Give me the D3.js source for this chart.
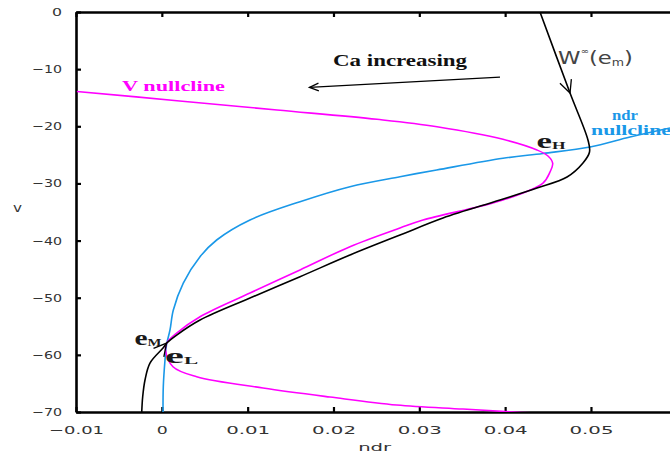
<!DOCTYPE html>
<html><head><meta charset="utf-8">
<script src="https://cdn.jsdelivr.net/npm/d3@7"></script>
<style>body{margin:0;background:#fff}svg{display:block}</style>
</head><body><svg id="c" width="670" height="454"></svg>
<script>
// ---- data ----
const xTicks = [-0.01, 0, 0.01, 0.02, 0.03, 0.04, 0.05];
const yTicks = [0, -10, -20, -30, -40, -50, -60, -70];

// V nullcline (magenta)
const vNullNdr = [-0.0099, 0.00177, 0.01342, 0.02507, 0.03206, 0.03975, 0.04371, 0.04499, 0.04554, 0.04523, 0.04441, 0.03975, 0.03043, 0.02775, 0.02192, 0.0161, 0.01027, 0.00445, 0.00173, 0.00057, 0.00043, 0.0013, 0.00406, 0.01179, 0.01959, 0.02736, 0.03509, 0.04091, 0.0458];
const vNullV   = [-13.9, -15.52, -17.15, -18.78, -20.07, -22.28, -24.15, -25.2, -26.48, -27.99, -29.93, -32.9, -36.4, -37.8, -41.07, -45.15, -49.18, -53.32, -56.18, -57.93, -59.15, -62.08, -63.83, -65.8, -67.38, -68.78, -69.48, -70, -70.3];

// ndr nullcline (blue)
const ndrNullNdr = [0.00014, 0.00017, 0.00037, 0.00054, 0.00095, 0.00134, 0.0025, 0.00445, 0.00639, 0.01027, 0.0161, 0.02192, 0.02775, 0.03202, 0.03975, 0.04441, 0.04989, 0.05455, 0.05921];
const ndrNullV   = [-70.3, -65.57, -60.9, -58.28, -55.65, -52.15, -47.43, -42.82, -39.9, -36.4, -33.2, -30.57, -28.82, -27.65, -25.6, -24.75, -23.63, -21.88, -20.3];

// W-infinity(e_m) curve (black)
const wNdr = [0.04406, 0.04756, 0.04965, 0.04983, 0.04907, 0.04721, 0.04371, 0.0394, 0.03276, 0.02775, 0.02192, 0.0161, 0.01027, 0.00445, 0.00173, 0.00057, 0.00014, -0.00138, -0.00196, -0.00223, -0.00235];
const wV   = [0, -14.18, -22.4, -24.5, -26.43, -28.88, -30.8, -32.9, -36.05, -39.03, -42.53, -46.32, -50.05, -53.9, -56.53, -57.93, -58.8, -61.43, -64.4, -67.33, -70.3];

// annotation anchors (data coords)
const eH = [0.0440, -24.4];
const eM = [0.00055, -57.95];
const eL = [0.0005, -60.2];
const caArrow = [[0.0394, -11.4], [0.0172, -13.2]];
const wArrowIdx = 1;

// ---- chart ----
const svg = d3.select("#c");
const x = d3.scaleLinear().domain([-0.01, 0.06]).range([76, 676.8]);
const y = d3.scaleLinear().domain([0, -70]).range([12, 412]);

svg.append("defs").append("clipPath").attr("id", "clip")
  .append("rect").attr("x", x(-0.01)).attr("y", y(0)).attr("width", x(0.06) - x(-0.01)).attr("height", y(-70) - y(0));

const fmtX = v => v === 0 ? "0" : (v < 0 ? "\u2212" : "") + Math.abs(v).toFixed(2);
const fmtY = v => v === 0 ? "0" : (v < 0 ? "\u2212" : "") + Math.abs(v);

function styleAxis(g) {
  g.select(".domain").attr("stroke", "#000").attr("stroke-width", 2.6);
  g.selectAll(".tick line").attr("stroke", "#000").attr("stroke-width", 2.2);
  g.selectAll("text").attr("fill", "#333").style("font-family", "DejaVu Sans")
    .style("font-size", "11px");
}

const gx = svg.append("g").attr("transform", `translate(0,${y(-70)})`)
  .call(d3.axisBottom(x).tickValues(xTicks).tickFormat(fmtX).tickSizeInner(-5).tickSizeOuter(0).tickPadding(14));
styleAxis(gx);
gx.selectAll("text").attr("textLength", d => fmtX(d).length * 11).attr("lengthAdjust", "spacingAndGlyphs");

const gxt = svg.append("g").attr("transform", `translate(0,${y(0)})`)
  .call(d3.axisTop(x).tickValues(xTicks).tickFormat("").tickSizeInner(-5).tickSizeOuter(0));
styleAxis(gxt);

const gy = svg.append("g").attr("transform", `translate(${x(-0.01)},0)`)
  .call(d3.axisLeft(y).tickValues(yTicks).tickFormat(fmtY).tickSizeInner(-5).tickSizeOuter(0).tickPadding(14));
styleAxis(gy);
gy.selectAll("text").attr("textLength", d => fmtY(d).length * 10).attr("lengthAdjust", "spacingAndGlyphs");

const gyr = svg.append("g").attr("transform", `translate(${x(0.06)},0)`)
  .call(d3.axisRight(y).tickValues(yTicks).tickFormat("").tickSizeInner(-5).tickSizeOuter(0));
styleAxis(gyr);

// axis titles
svg.append("text").attr("x", 17.5).attr("y", 212).attr("text-anchor", "middle")
  .style("font-family", "DejaVu Sans").style("font-size", "12px").attr("fill", "#333")
  .attr("textLength", 9).attr("lengthAdjust", "spacingAndGlyphs").text("v");
svg.append("text").attr("x", x(0.0248)).attr("y", 451).attr("text-anchor", "middle")
  .style("font-family", "DejaVu Sans").style("font-size", "11px").attr("fill", "#333")
  .attr("textLength", 33).attr("lengthAdjust", "spacingAndGlyphs").text("ndr");

// curves
const line = d3.line().x(d => x(d[0])).y(d => y(d[1])).curve(d3.curveCatmullRom.alpha(0.5));
const plot = svg.append("g").attr("clip-path", "url(#clip)");
plot.append("path").datum(d3.zip(ndrNullNdr, ndrNullV)).attr("d", line)
  .attr("fill", "none").attr("stroke", "#1a98e8").attr("stroke-width", 1.6);
plot.append("path").datum(d3.zip(vNullNdr, vNullV)).attr("d", line)
  .attr("fill", "none").attr("stroke", "#ff00ff").attr("stroke-width", 1.6);
plot.append("path").datum(d3.zip(wNdr, wV)).attr("d", line)
  .attr("fill", "none").attr("stroke", "#000").attr("stroke-width", 1.6);

// arrowheads
function arrowHead(tip, from, len, ang) {
  const tx = x(tip[0]), ty = y(tip[1]);
  const fx = x(from[0]), fy = y(from[1]);
  const a = Math.atan2(fy - ty, fx - tx);
  const p1 = [tx + len * Math.cos(a + ang), ty + len * Math.sin(a + ang)];
  const p2 = [tx + len * Math.cos(a - ang), ty + len * Math.sin(a - ang)];
  svg.append("path").attr("d", `M${p1}L${tx},${ty}L${p2}`)
    .attr("fill", "none").attr("stroke", "#000").attr("stroke-width", 1.3);
}
// Ca increasing arrow
svg.append("line").attr("x1", x(caArrow[0][0])).attr("y1", y(caArrow[0][1]))
  .attr("x2", x(caArrow[1][0])).attr("y2", y(caArrow[1][1])).attr("stroke", "#000").attr("stroke-width", 1.2);
arrowHead(caArrow[1], caArrow[0], 10, 0.4);
// arrow on W curve
arrowHead([wNdr[wArrowIdx], wV[wArrowIdx]], [wNdr[0], wV[0]], 14, 0.45);
// arrow at e_M
arrowHead(eM, [-0.00138, -61.43], 14, 0.5);

// labels
function serifLabel(px, py, txt, color, size, len) {
  svg.append("text").attr("x", px).attr("y", py)
    .style("font-family", "Liberation Serif").style("font-weight", "bold").style("font-size", size + "px")
    .attr("fill", color).attr("textLength", len).attr("lengthAdjust", "spacingAndGlyphs").text(txt);
}
serifLabel(122, 91, "V nullcline", "#ff00ff", 15, 103);
serifLabel(333, 66, "Ca increasing", "#111", 16, 134);
serifLabel(612, 120, "ndr", "#1a98e8", 14, 26);
serifLabel(591, 135, "nullcline", "#1a98e8", 14, 80);

function eLabel(px, py, sub, len) {
  const t = svg.append("text").attr("x", px).attr("y", py)
    .style("font-family", "Liberation Serif").style("font-weight", "bold")
    .attr("fill", "#1a1a1a").attr("textLength", len).attr("lengthAdjust", "spacingAndGlyphs");
  t.append("tspan").style("font-size", "20px").text("e");
  t.append("tspan").style("font-size", "10px").attr("dy", 1).text(sub);
}
eLabel(x(eH[0]) - 3, y(eH[1]) - 3, "H", 29);
eLabel(x(eM[0]) - 32, y(eM[1]) + 2, "M", 27);
eLabel(x(eL[0]) - 1, y(eL[1]) + 7, "L", 33);

// W^inf(e_m) label
const wl = svg.append("text").attr("x", 558).attr("y", 64)
  .style("font-family", "DejaVu Sans").style("font-size", "18px").attr("fill", "#444")
  .attr("textLength", 75).attr("lengthAdjust", "spacingAndGlyphs");
wl.append("tspan").text("W");
wl.append("tspan").attr("dy", -10).style("font-size", "8px").text("\u221e");
wl.append("tspan").attr("dy", 10).text("(e");
wl.append("tspan").attr("dy", 2).style("font-size", "10px").text("m");
wl.append("tspan").attr("dy", -2).text(")");
</script></body></html>
